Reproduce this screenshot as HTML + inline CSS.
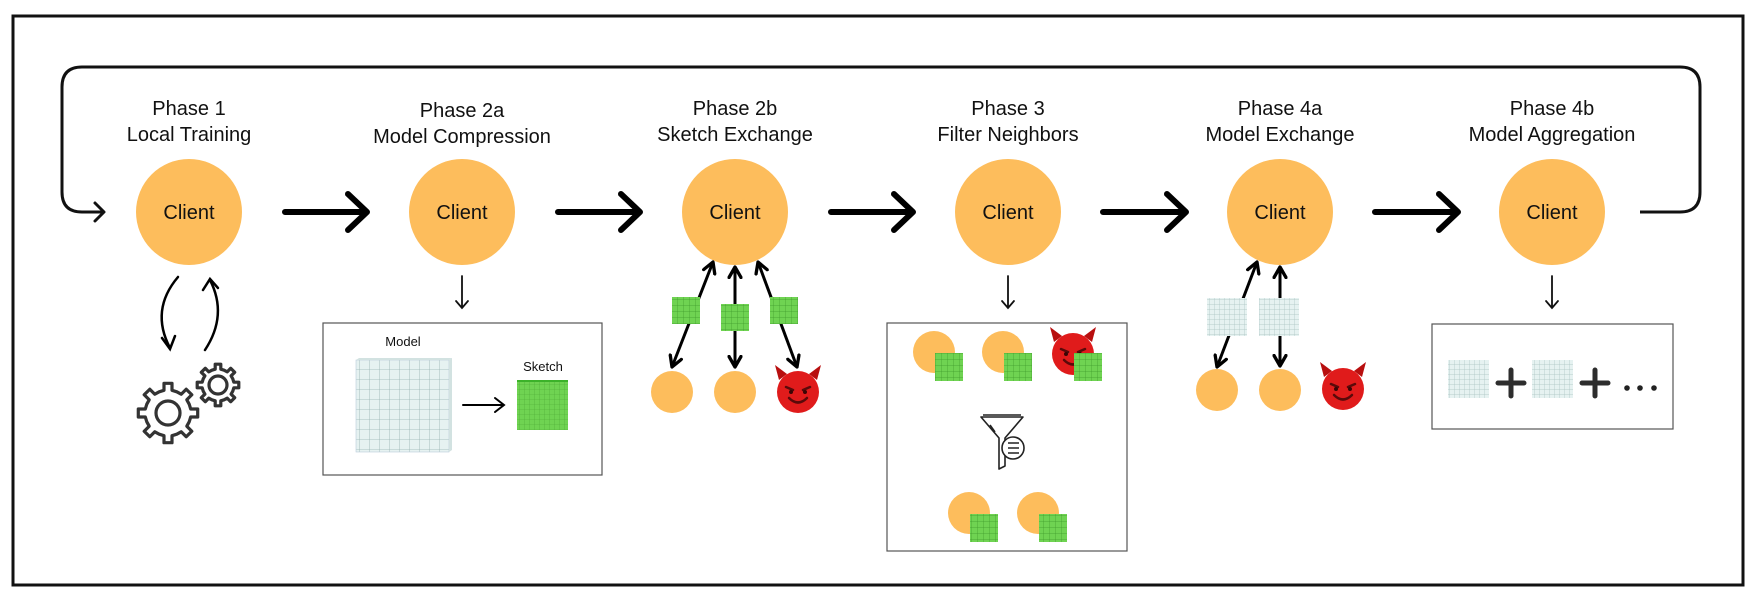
<!DOCTYPE html>
<html><head><meta charset="utf-8">
<style>
html,body{margin:0;padding:0;background:#fff;}
svg{display:block;}
text{font-family:"Liberation Sans",sans-serif;fill:#111;}
</style></head>
<body>
<svg id="s" width="1756" height="602" viewBox="0 0 1756 602" xmlns="http://www.w3.org/2000/svg">
<defs>
<pattern id="gridL" width="5" height="5" patternUnits="userSpaceOnUse">
<rect width="5" height="5" fill="#e6f2f1"/>
<path d="M5 0V5M0 5H5" stroke="#a9c2c0" stroke-width="0.7" fill="none"/>
</pattern>
<pattern id="gridM" width="10" height="10" patternUnits="userSpaceOnUse">
<rect width="10" height="10" fill="#e6f2f1"/>
<path d="M10 0V10M0 10H10" stroke="#98b3b1" stroke-width="0.8" fill="none"/>
</pattern>
<pattern id="gridG" width="5" height="5" patternUnits="userSpaceOnUse">
<rect width="5" height="5" fill="#6fd352"/>
<path d="M5 0V5M0 5H5" stroke="#4aa834" stroke-width="0.6" fill="none"/>
</pattern>
<pattern id="gridG2" width="6" height="6" patternUnits="userSpaceOnUse">
<rect width="6" height="6" fill="#6fd352"/>
<path d="M6 0V6M0 6H6" stroke="#3f9a2b" stroke-width="0.7" fill="none"/>
</pattern>
<marker id="ah" viewBox="0 0 10 10" refX="8" refY="5" markerWidth="5" markerHeight="5" orient="auto-start-reverse">
<path d="M1 1L8 5L1 9" fill="none" stroke="#000" stroke-width="2.2" stroke-linecap="round" stroke-linejoin="round"/>
</marker>
<g id="devil">
<path d="M-19 -12 L-23 -27 L-11 -18Z" fill="#b80f0f"/>
<path d="M19 -12 L23 -27 L11 -18Z" fill="#b80f0f"/>
<circle r="21" fill="#e01b1b"/>
<path d="M-12 -5 L-5 -2 M12 -5 L5 -2" stroke="#5a0a0a" stroke-width="2.5" stroke-linecap="round"/>
<circle cx="-7" cy="0" r="2" fill="#3a0505"/><circle cx="7" cy="0" r="2" fill="#3a0505"/>
<path d="M-9 6 Q0 15 9 6" stroke="#5a0a0a" stroke-width="2.5" fill="none" stroke-linecap="round"/>
</g>
</defs>

<rect x="13" y="16" width="1730" height="569" fill="none" stroke="#111" stroke-width="3"/>

<path d="M1640 212 H1680 Q1700 212 1700 192 V87 Q1700 67 1680 67 H82 Q62 67 62 87 V192 Q62 212 82 212 H104" fill="none" stroke="#111" stroke-width="3"/>
<path d="M95 203 L104 212 L95 221" fill="none" stroke="#111" stroke-width="3" stroke-linecap="round" stroke-linejoin="round"/>

<g stroke="#000" stroke-width="6" stroke-linecap="round" stroke-linejoin="round" fill="none">
<path d="M285 212H366M348 194L367 212L348 230"/>
<path d="M558 212H639M621 194L640 212L621 230"/>
<path d="M831 212H912M894 194L913 212L894 230"/>
<path d="M1103 212H1185M1167 194L1186 212L1167 230"/>
<path d="M1375 212H1457M1439 194L1458 212L1439 230"/>
</g>

<g font-size="20" text-anchor="middle">
<text x="189" y="115">Phase 1</text><text x="189" y="141">Local Training</text>
<text x="462" y="117">Phase 2a</text><text x="462" y="143">Model Compression</text>
<text x="735" y="115">Phase 2b</text><text x="735" y="141">Sketch Exchange</text>
<text x="1008" y="115">Phase 3</text><text x="1008" y="141">Filter Neighbors</text>
<text x="1280" y="115">Phase 4a</text><text x="1280" y="141">Model Exchange</text>
<text x="1552" y="115">Phase 4b</text><text x="1552" y="141">Model Aggregation</text>
</g>

<g fill="#fdbd5c">
<circle cx="189" cy="212" r="53"/><circle cx="462" cy="212" r="53"/><circle cx="735" cy="212" r="53"/>
<circle cx="1008" cy="212" r="53"/><circle cx="1280" cy="212" r="53"/><circle cx="1552" cy="212" r="53"/>
</g>
<g font-size="20" text-anchor="middle">
<text x="189" y="219">Client</text><text x="462" y="219">Client</text><text x="735" y="219">Client</text>
<text x="1008" y="219">Client</text><text x="1280" y="219">Client</text><text x="1552" y="219">Client</text>
</g>

<g stroke="#000" stroke-width="2.5" fill="none" stroke-linecap="round">
<path d="M178 277 Q150 310 170 348"/>
<path d="M162 338 L170 349 L175 336"/>
<path d="M205 350 Q228 315 210 280"/>
<path d="M203 290 L210 279 L218 288"/>
</g>
<g id="gears" fill="none" stroke="#333" stroke-width="3.2" stroke-linejoin="round"></g>

<g stroke="#111" stroke-width="1.8" fill="none" stroke-linecap="round">
<path d="M462 276V308M456 301L462 308L468 301"/>
<path d="M1008 276V308M1002 301L1008 308L1014 301"/>
<path d="M1552 276V308M1546 301L1552 308L1558 301"/>
</g>

<rect x="323" y="323" width="279" height="152" fill="#fff" stroke="#555" stroke-width="1.2"/>
<text x="403" y="346" font-size="13" text-anchor="middle">Model</text>
<rect x="356" y="360" width="93" height="92" fill="url(#gridM)" stroke="#bcd" stroke-width="0.6"/>
<path d="M449 360 l3 -2 v92 l-3 2z" fill="#d2e2e1"/>
<path d="M356 360 l3 -2 h93 l-3 2z" fill="#d2e2e1"/>
<path d="M463 405H503M495 398L504 405L495 412" stroke="#000" stroke-width="2" fill="none" stroke-linecap="round"/>
<text x="543" y="371" font-size="13" text-anchor="middle">Sketch</text>
<rect x="517" y="381" width="51" height="49" fill="url(#gridG)"/>
<rect x="517" y="380" width="51" height="2" fill="#3cb22a"/>

<g stroke="#000" stroke-width="3" fill="none" marker-end="url(#ah)" marker-start="url(#ah)">
<path d="M672 367 L713 262"/>
<path d="M735 367 L735 267"/>
<path d="M797 367 L758 262"/>
</g>
<rect x="672" y="297" width="28" height="27" fill="url(#gridG2)"/>
<rect x="721" y="304" width="28" height="27" fill="url(#gridG2)"/>
<rect x="770" y="297" width="28" height="27" fill="url(#gridG2)"/>
<circle cx="672" cy="392" r="21" fill="#fdbd5c"/>
<circle cx="735" cy="392" r="21" fill="#fdbd5c"/>
<use href="#devil" x="798" y="392"/>

<rect x="887" y="323" width="240" height="228" fill="#fff" stroke="#555" stroke-width="1.2"/>
<circle cx="934" cy="352" r="21" fill="#fdbd5c"/><rect x="935" y="353" width="28" height="28" fill="url(#gridG2)"/>
<circle cx="1003" cy="352" r="21" fill="#fdbd5c"/><rect x="1004" y="353" width="28" height="28" fill="url(#gridG2)"/>
<use href="#devil" x="1073" y="354"/><rect x="1074" y="353" width="28" height="28" fill="url(#gridG2)"/>
<g stroke="#222" stroke-width="1.6" fill="none" stroke-linejoin="round">
<path d="M981 417 H1023 L1005 438 V466 L999 469 V438 Z"/>
<path d="M983 415 H1021"/>
<circle cx="1013" cy="448" r="11" fill="#fff"/>
<path d="M1008 443 H1019 M1008 448 H1019 M1008 453 H1019"/>
<path d="M990 425 L995 432"/>
</g>
<circle cx="969" cy="513" r="21" fill="#fdbd5c"/><rect x="970" y="514" width="28" height="28" fill="url(#gridG2)"/>
<circle cx="1038" cy="513" r="21" fill="#fdbd5c"/><rect x="1039" y="514" width="28" height="28" fill="url(#gridG2)"/>

<g stroke="#000" stroke-width="3" fill="none" marker-end="url(#ah)" marker-start="url(#ah)">
<path d="M1217 367 L1257 262"/>
<path d="M1280 366 L1280 267"/>
</g>
<rect x="1207" y="298" width="40" height="38" fill="url(#gridL)"/>
<rect x="1259" y="298" width="40" height="38" fill="url(#gridL)"/>
<circle cx="1217" cy="390" r="21" fill="#fdbd5c"/>
<circle cx="1280" cy="390" r="21" fill="#fdbd5c"/>
<use href="#devil" x="1343" y="389"/>

<rect x="1432" y="324" width="241" height="105" fill="#fff" stroke="#555" stroke-width="1.2"/>
<rect x="1448" y="360" width="41" height="38" fill="url(#gridL)"/>
<rect x="1532" y="360" width="41" height="38" fill="url(#gridL)"/>
<g stroke="#2d2d2d" stroke-width="5" stroke-linecap="round">
<path d="M1498 383H1524M1511 370V396"/>
<path d="M1582 383H1608M1595 370V396"/>
</g>
<g fill="#222"><circle cx="1627" cy="388" r="2.8"/><circle cx="1640" cy="388" r="2.8"/><circle cx="1654" cy="388" r="2.8"/></g>
</svg>
<script>
function gear(cx,cy,R,r,n,hole){
 var pts=[],step=Math.PI*2/n;
 for(var i=0;i<n;i++){
  var a=i*step;
  var t=[[a-step*0.5,r],[a-step*0.22,r],[a-step*0.17,R],[a+step*0.17,R],[a+step*0.22,r]];
  t.forEach(function(p){pts.push((cx+p[1]*Math.cos(p[0])).toFixed(1)+","+(cy+p[1]*Math.sin(p[0])).toFixed(1));});
 }
 var g=document.getElementById('gears');
 var pl=document.createElementNS("http://www.w3.org/2000/svg","polygon");
 pl.setAttribute("points",pts.join(" "));g.appendChild(pl);
 var c=document.createElementNS("http://www.w3.org/2000/svg","circle");
 c.setAttribute("cx",cx);c.setAttribute("cy",cy);c.setAttribute("r",hole);g.appendChild(c);
}
gear(168,413,30,23,8,12);
gear(218,385,21,16,8,9);
</script>
</body></html>
